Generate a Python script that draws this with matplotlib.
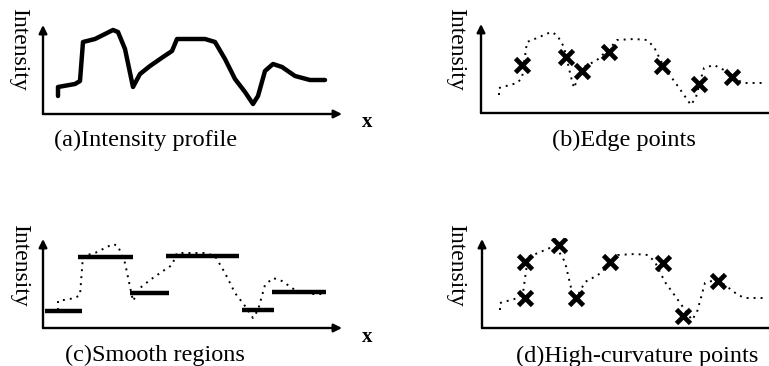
import matplotlib
matplotlib.use("Agg")
import matplotlib.pyplot as plt

plt.rcParams['font.family'] = ['Liberation Serif', 'DejaVu Serif']

# ---- data (x position along signal, intensity) ----
profile_x = [15, 15, 32, 37, 40, 52, 70, 75, 82, 90, 97, 107, 120, 129, 134,
             162, 172, 182, 192, 202, 210, 215, 222, 230, 239, 252, 267, 282]
profile_y = [18, 27, 30, 33, 72, 75, 84, 82, 65, 27, 40, 48, 57, 63, 75,
             75, 72, 55, 35, 22, 10, 18, 43, 50, 47, 38, 34, 34]

dotted_x = [18, 18, 36, 41, 46, 56, 70, 76, 83, 90, 93, 96, 103, 116, 130, 136,
            153, 166, 173, 183, 196, 210, 215, 223, 233, 243, 256, 263, 285]
dotted_y = [18, 25, 30, 35, 71, 75, 81, 78, 66, 36, 25, 33, 46, 53, 66, 73,
            74, 73, 66, 46, 28, 8, 16, 45, 48, 43, 33, 30, 30]

edge_x = [41, 85, 101, 128, 181, 218, 251]
edge_y = [48, 56, 42, 61, 47, 29, 36]

region_start = [2, 35, 87, 123, 199, 229]
region_end = [39, 90, 126, 196, 231, 283]
region_level = [17, 71, 35, 72, 18, 36]

curv_x = [43, 43, 77, 94, 128, 181, 201, 236]
curv_y = [30, 66, 83, 30, 66, 65, 12, 47]

titles = ["(a)Intensity profile", "(b)Edge points",
          "(c)Smooth regions", "(d)High-curvature points"]
ylabel = "Intensity"
xlabel = "x"

W, H = 769, 366
fig = plt.figure(figsize=(W / 100, H / 100), dpi=100)

# axes origins in pixels (y-axis x position, x-axis y position)
origins = [(43, 114), (481, 113), (43, 328), (482, 328)]
XR, YR = 300, 90

axes = []
for (ox, oy) in origins:
    ax = fig.add_axes([ox / W, (H - oy) / H, XR / W, YR / H])
    ax.set_xlim(0, XR)
    ax.set_ylim(0, YR)
    ax.axis('off')
    ap = dict(arrowstyle='-|>', lw=1.7, color='black', mutation_scale=12,
              shrinkA=0, shrinkB=0)
    ax.annotate('', xy=(299, 0), xytext=(0, 0), arrowprops=ap,
                annotation_clip=False)
    ax.annotate('', xy=(0, 89), xytext=(0, 0), arrowprops=ap,
                annotation_clip=False)
    axes.append(ax)

dot_style = dict(color='black', lw=1.4, linestyle=(0, (1, 2.6)))

# (a)
axes[0].plot(profile_x, profile_y, color='black', lw=3.2,
             solid_joinstyle='round', solid_capstyle='round')
# (b)
axes[1].plot(dotted_x, dotted_y, **dot_style)
axes[1].plot(edge_x, edge_y, linestyle='none', marker='x', color='black',
             markersize=10, markeredgewidth=3.4)
# (c)
axes[2].plot(profile_x, profile_y, **dot_style)
axes[2].hlines(region_level, region_start, region_end, color='black', lw=3.2)
# (d)
axes[3].plot(dotted_x, dotted_y, **dot_style)
axes[3].plot(curv_x, curv_y, linestyle='none', marker='x', color='black',
             markersize=10, markeredgewidth=3.4)

fs = 17.5
title_pos = [(146, 140), (624, 140), (155, 355), (637, 356)]
for t, (tx, ty) in zip(titles, title_pos):
    fig.text(tx / W, 1 - ty / H, t, ha='center', va='center', fontsize=fs)

ylab_pos = [(19, 49), (456, 49), (20, 265), (456, 265)]
for (lx, ly) in ylab_pos:
    fig.text(lx / W, 1 - ly / H, ylabel, ha='center', va='center',
             fontsize=17, rotation=-90)

for (lx, ly) in [(367, 122), (367, 337)]:
    fig.text(lx / W, 1 - ly / H, xlabel, ha='center', va='center',
             fontsize=15, fontweight='bold')

fig.savefig("out.png", dpi=100)
